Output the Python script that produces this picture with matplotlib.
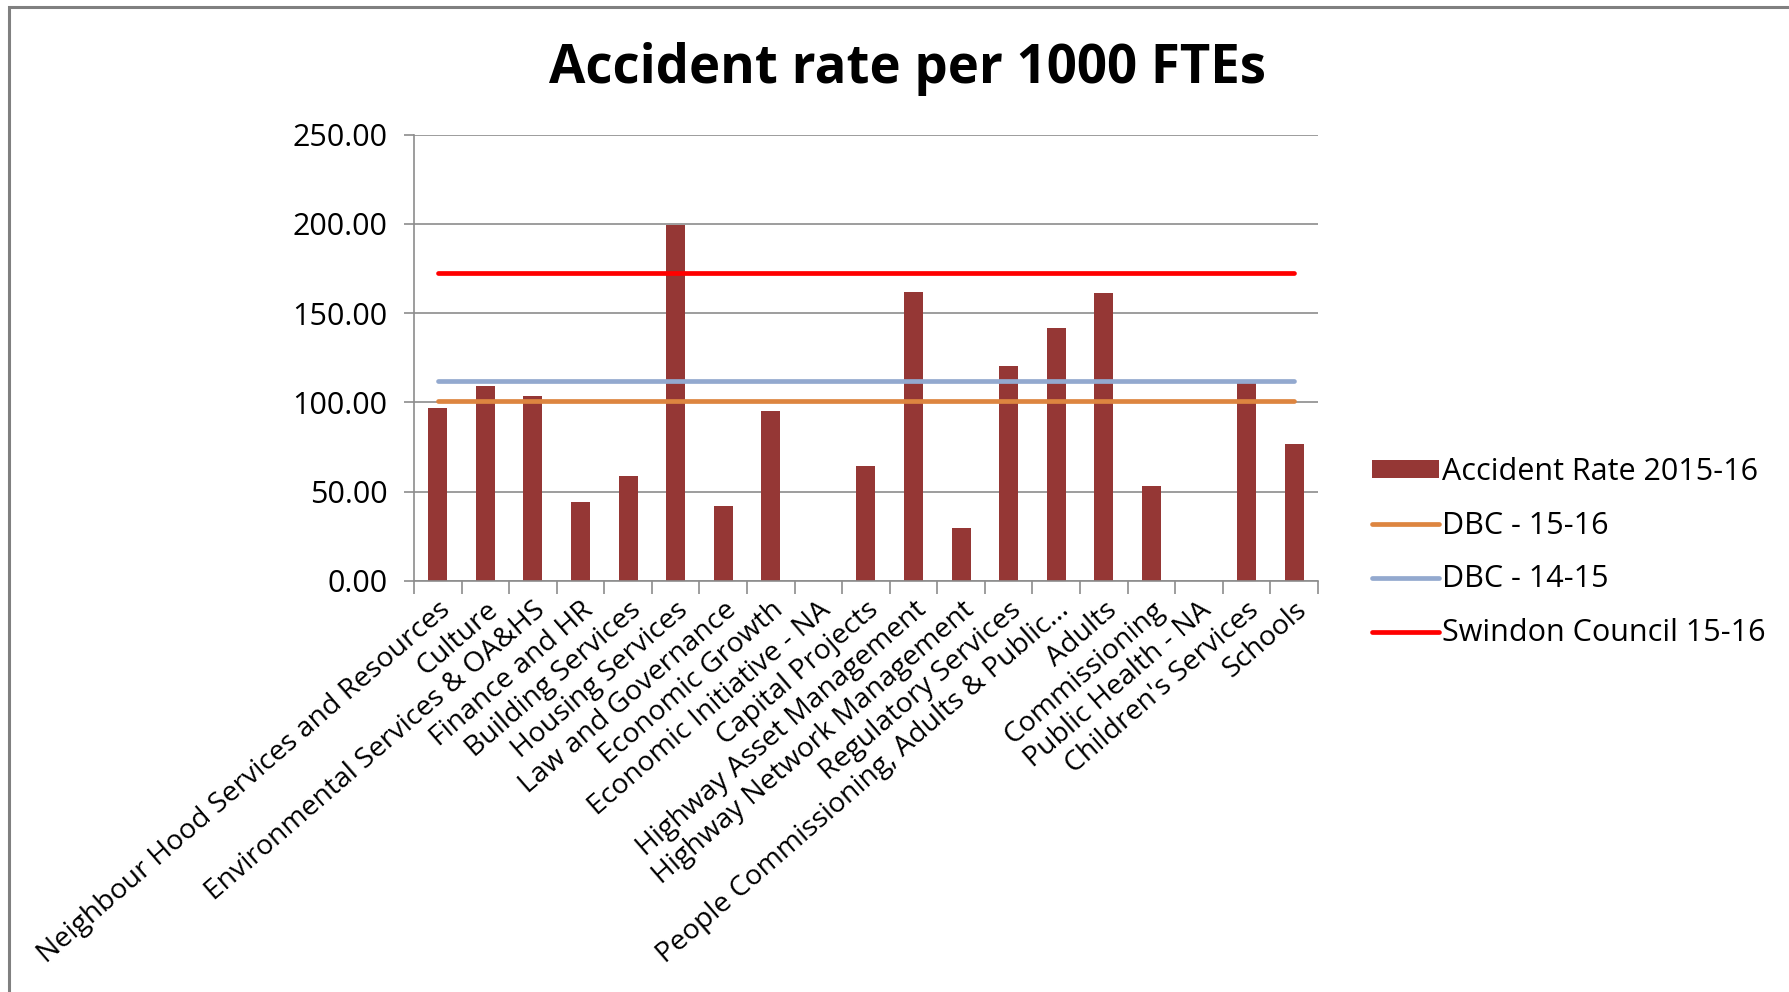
import matplotlib
matplotlib.use("Agg")
import matplotlib.pyplot as plt
from matplotlib.patches import Rectangle, Patch
from matplotlib.lines import Line2D
import numpy as np

plt.rcParams['font.family'] = ['Open Sans', 'DejaVu Sans']

categories = [
    "Neighbour Hood Services and Resources", "Culture", "Environmental Services & OA&HS",
    "Finance and HR", "Building Services", "Housing Services", "Law and Governance",
    "Economic Growth", "Economic Initiative - NA", "Capital Projects",
    "Highway Asset Management", "Highway Network Management", "Regulatory Services",
    "People Commissioning, Adults & Public...", "Adults", "Commissioning",
    "Public Health - NA", "Children's Services", "Schools",
]
accident_rate = [96.8, 109.1, 103.5, 44.1, 58.6, 199.2, 41.7, 95.3, 0.0, 64.4,
                 161.6, 29.4, 120.4, 141.5, 161.0, 53.1, 0.0, 111.0, 76.7]
dbc_1516 = 100.9
dbc_1415 = 112.2
swindon_1516 = 172.4

bar_color = "#953735"
orange = "#DD8540"
blue = "#93A9CF"
red = "#FF0000"
grid_gray = "#8C8C8C"

fig = plt.figure(figsize=(17.89, 9.92), dpi=100)
ax = fig.add_axes([0.2314, 0.4145, 0.5053, 0.4498])

x = np.arange(len(categories))
ax.bar(x, accident_rate, width=0.4, color=bar_color, zorder=2)
for val, col in [(dbc_1516, orange), (dbc_1415, blue), (swindon_1516, red)]:
    ax.plot(x, [val] * len(x), color=col, lw=3.4, solid_capstyle="round", zorder=3)

ax.set_xlim(-0.5, len(categories) - 0.5)
ax.set_ylim(0, 250)
ax.set_yticks(np.arange(0, 251, 50))
ax.set_yticklabels([f"{v:.2f}" for v in np.arange(0, 251, 50)], fontsize=22)
ax.yaxis.grid(True, color=grid_gray, lw=1.2, zorder=0)
ax.set_axisbelow(True)

# category ticks between bars, labels at bar centres
ax.set_xticks(np.arange(-0.5, len(categories), 1.0))
ax.set_xticklabels([])
ax.set_xticks(x, minor=True)
ax.set_xticklabels(categories, minor=True, rotation=41, ha="right",
                   rotation_mode="anchor", fontsize=20.4)
ax.tick_params(axis="x", which="major", length=9, color=grid_gray, width=1.2)
ax.tick_params(axis="x", which="minor", length=0, pad=11)
ax.tick_params(axis="y", length=7, color=grid_gray, width=1.2, pad=12)

for side in ["top", "right"]:
    ax.spines[side].set_visible(False)
for side in ["left", "bottom"]:
    ax.spines[side].set_color(grid_gray)
    ax.spines[side].set_linewidth(1.2)

fig.text(0.507, 0.93, "Accident rate per 1000 FTEs", ha="center", va="center",
         fontsize=38, fontweight="bold")

handles = [
    Patch(facecolor=bar_color),
    Line2D([], [], color=orange, lw=3.4, solid_capstyle="round"),
    Line2D([], [], color=blue, lw=3.4, solid_capstyle="round"),
    Line2D([], [], color=red, lw=3.4, solid_capstyle="round"),
]
labels = ["Accident Rate 2015-16", "DBC - 15-16", "DBC - 14-15", "Swindon Council 15-16"]
fig.legend(handles, labels, loc="center left", bbox_to_anchor=(0.767, 0.443),
           frameon=False, fontsize=22, handlelength=2.2, handleheight=0.5,
           handletextpad=0.1, labelspacing=0.78, borderpad=0, borderaxespad=0)

fig.add_artist(Rectangle((9 / 1789, -0.05), 1.2, 1.05 - 7 / 992,
                         transform=fig.transFigure, fill=False,
                         edgecolor="#808080", lw=2.2))

fig.savefig("out.png", dpi=100)
